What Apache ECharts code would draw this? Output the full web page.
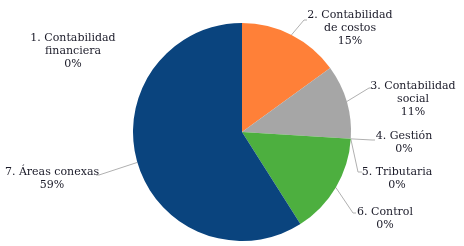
<!DOCTYPE html>
<html>
<head>
<meta charset="utf-8">
<script src="https://cdn.jsdelivr.net/npm/echarts@6/dist/echarts.min.js"></script>
<style>
  html, body { margin: 0; padding: 0; background: #fff; }
  #chart { width: 464px; height: 246px; }
</style>
</head>
<body>
<div id="chart"></div>
<script>
  // datos
  const categories = [
    '1. Contabilidad\nfinanciera',
    '2. Contabilidad\nde costos',
    '3. Contabilidad\nsocial',
    '4. Gestión',
    '5. Tributaria',
    '6. Control',
    '7. Áreas conexas'
  ]
  const values = [0, 15, 11, 0, 0, 15, 59]
  const percentLabels = ['0%', '15%', '11%', '0%', '0%', '0%', '59%']

  const colors = ['#1f4e79', '#ff8038', '#a6a6a6', '#5b9bd5', '#ffc000', '#4daf3f', '#0a447e']
  const textColor = '#1a1a28'
  const serif = 'DejaVu Serif'

  // posición de cada etiqueta (centro del bloque) y codo de la línea guía
  const labelPos = [
    { x: 73, y: 51, elbow: null },
    { x: 350, y: 28, elbow: [[304, 20], [307, 20]] },
    { x: 413, y: 99, elbow: [[369, 88], [371, 88]] },
    { x: 404, y: 143, elbow: [[372, 140], [375, 140]] },
    { x: 397, y: 179, elbow: [[358, 172], [362, 172]] },
    { x: 385, y: 219, elbow: [[353, 213], [356, 213]] },
    { x: 52, y: 179, elbow: [[99, 175], [96, 175]] }
  ]

  const chart = echarts.init(document.getElementById('chart'))

  const pieData = categories.map((name, i) => ({
    name: name,
    value: values[i],
    labelLine: { show: labelPos[i].elbow !== null }
  }))

  chart.setOption({
    color: colors,
    animation: false,
    textStyle: { fontFamily: serif },
    series: [
      {
        type: 'pie',
        center: [242, 132],
        radius: 109,
        startAngle: 90,
        clockwise: true,
        avoidLabelOverlap: false,
        minAngle: 0,
        label: {
          show: true,
          position: 'outside',
          formatter: (p) => '{t|' + p.name.replace('\n', '}\n{t|') + '}\n{t|' + percentLabels[p.dataIndex] + '}',
          rich: {
            t: {
              color: textColor,
              fontFamily: serif,
              fontSize: 11,
              lineHeight: 13,
              align: 'center'
            }
          }
        },
        labelLine: {
          show: true,
          lineStyle: { color: '#b0b0b0', width: 1 }
        },
        labelLayout: (params) => {
          const pos = labelPos[params.dataIndex]
          const out = {
            x: pos.x,
            y: pos.y,
            align: 'center',
            verticalAlign: 'middle'
          }
          if (pos.elbow && params.labelLinePoints) {
            out.labelLinePoints = [params.labelLinePoints[0], pos.elbow[0], pos.elbow[1]]
          }
          return out
        },
        data: pieData
      }
    ]
  })
</script>
</body>
</html>
